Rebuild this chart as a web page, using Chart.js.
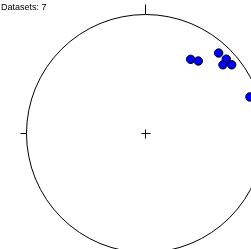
<!DOCTYPE html>
<html>
<head>
<meta charset="utf-8">
<script src="https://cdn.jsdelivr.net/npm/chart.js@4.4.0/dist/chart.umd.min.js"></script>
<style>
  html, body { margin: 0; padding: 0; background: #fff; }
  canvas { display: block; }
</style>
</head>
<body>
<canvas id="net" width="251" height="249"></canvas>
<script>
// Poles plotted in the unit net (x = east, y = north)
const poleX = [0.384, 0.448, 0.619, 0.683, 0.655, 0.729, 0.882];
const poleY = [0.619, 0.605, 0.672, 0.621, 0.573, 0.573, 0.303];
const datasetCount = 7;

// net framing: unit circle of 119px radius, centre at (145,133)
const R = 119, CX = 145, CY = 133, W = 251, H = 249;

const netPlugin = {
  id: 'net',
  beforeDatasetsDraw(chart) {
    const { ctx, scales: { x, y } } = chart;
    const cx = Math.round(x.getPixelForValue(0)) + 0.5;
    const cy = Math.round(y.getPixelForValue(0)) + 0.5;
    const r = x.getPixelForValue(1) - x.getPixelForValue(0);
    ctx.save();
    ctx.strokeStyle = '#000';
    ctx.lineWidth = 1;
    ctx.beginPath();
    ctx.arc(cx, cy, r, 0, Math.PI * 2);
    ctx.stroke();
    // N / S / E / W ticks
    ctx.beginPath();
    ctx.moveTo(cx, cy - r); ctx.lineTo(cx, cy - r - 10);
    ctx.moveTo(cx, cy + r); ctx.lineTo(cx, cy + r + 10);
    ctx.moveTo(cx - r, cy); ctx.lineTo(cx - r - 6, cy);
    ctx.moveTo(cx + r, cy); ctx.lineTo(cx + r + 6, cy);
    // centre cross
    ctx.moveTo(cx - 4, cy); ctx.lineTo(cx + 5, cy);
    ctx.moveTo(cx, cy - 4); ctx.lineTo(cx, cy + 5);
    ctx.stroke();
    ctx.restore();
  },
  afterDraw(chart) {
    const { ctx } = chart;
    ctx.save();
    ctx.fillStyle = '#000';
    ctx.font = '9px "Liberation Sans", Arial, sans-serif';
    ctx.textBaseline = 'alphabetic';
    ctx.fillText('Datasets: ' + datasetCount, 1, 10);
    ctx.restore();
  }
};

new Chart(document.getElementById('net'), {
  type: 'scatter',
  data: {
    datasets: [{
      data: poleX.map((v, i) => ({ x: v, y: poleY[i] })),
      backgroundColor: '#0000ff',
      borderColor: '#000',
      borderWidth: 1,
      pointRadius: 4.2,
      clip: false
    }]
  },
  options: {
    responsive: false,
    animation: false,
    layout: { padding: 0, autoPadding: false },
    scales: {
      x: { display: false, min: -CX / R, max: (W - CX) / R },
      y: { display: false, min: (CY - H) / R, max: CY / R }
    },
    plugins: {
      legend: { display: false },
      tooltip: { enabled: false }
    }
  },
  plugins: [netPlugin]
});
</script>
</body>
</html>
